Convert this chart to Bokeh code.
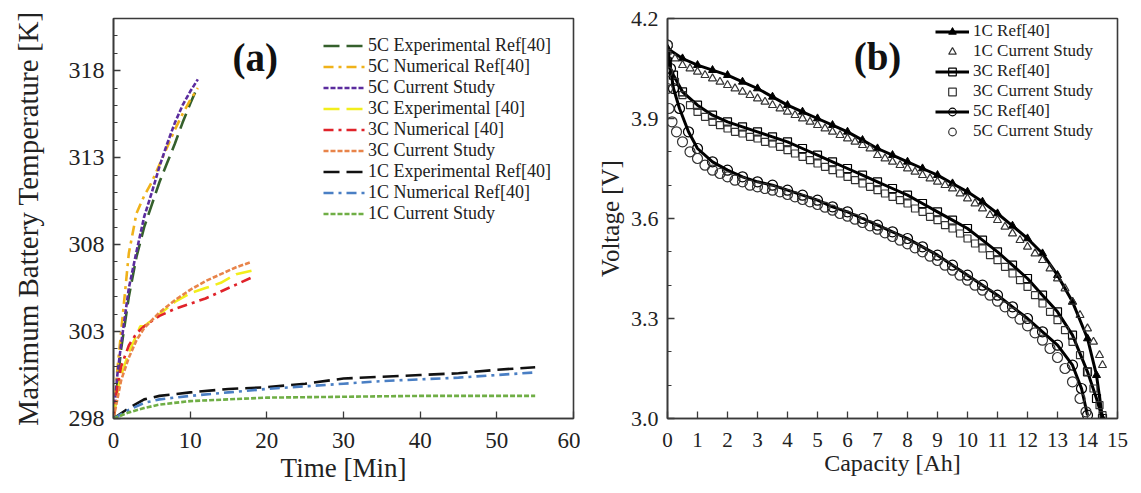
from bokeh.plotting import figure
from bokeh.models import Range1d, FixedTicker, Legend, LegendItem, Label
from bokeh.layouts import row
from bokeh.embed import file_html
from bokeh.resources import INLINE

FONT = "Liberation Serif"

# ---------------- Panel (a): maximum battery temperature ----------------
a_xticks = [0, 10, 20, 30, 40, 50, 60]
a_yticks = [298, 303, 308, 313, 318]
a_ytick_labels = ["298", "303", "308", "313", "318"]
a_yminor = [299, 300, 301, 302, 304, 305, 306, 307, 309, 310, 311, 312,
            314, 315, 316, 317, 319, 320, 321]

t_5c_exp = [0, 0.5, 1, 2, 3, 4, 5, 6, 7, 8, 9, 10, 10.7]
T_5c_exp = [298, 300.0, 302.0, 305.0, 307.3, 309.0, 310.3, 311.6, 312.7, 313.8, 315.0, 316.1, 316.8]

t_5c_num = [0, 0.5, 1, 2, 3, 4, 5, 6, 7, 8, 9, 10, 11]
T_5c_num = [298, 300.8, 303.0, 307.5, 309.8, 310.8, 311.6, 312.6, 313.6, 314.6, 315.5, 316.3, 317.0]

t_5c_cur = [0, 0.5, 1, 2, 3, 4, 5, 6, 7, 8, 9, 10, 11]
T_5c_cur = [298, 300.5, 302.3, 305.5, 307.6, 309.6, 311.0, 312.5, 313.8, 315.0, 316.0, 316.8, 317.5]

t_3c_exp = [0, 0.5, 1, 2, 3, 3.5, 4, 6, 8, 10, 12, 14, 16, 18]
T_3c_exp = [298, 299.5, 300.5, 301.8, 302.8, 303.3, 303.3, 304.0, 304.7, 305.2, 305.5, 305.8, 306.3, 306.5]

t_3c_num = [0, 0.5, 1, 2, 3, 4, 6, 8, 10, 12, 14, 16, 18]
T_3c_num = [298, 299.8, 301.0, 302.2, 302.9, 303.3, 303.9, 304.3, 304.6, 304.9, 305.3, 305.7, 306.1]

t_3c_cur = [0, 1, 2, 3, 4, 6, 8, 10, 12, 14, 16, 18]
T_3c_cur = [298, 300.2, 301.5, 302.5, 303.2, 304.1, 304.8, 305.4, 305.9, 306.3, 306.7, 307.0]

t_1c_exp = [0, 2, 4, 6, 10, 15, 20, 25, 30, 35, 40, 45, 50, 55]
T_1c_exp = [298, 298.6, 299.1, 299.3, 299.5, 299.7, 299.8, 300.0, 300.3, 300.4, 300.5, 300.6, 300.8, 300.95]

t_1c_num = [0, 2, 4, 6, 10, 15, 20, 25, 30, 35, 40, 45, 50, 55]
T_1c_num = [298, 298.5, 298.9, 299.1, 299.3, 299.5, 299.7, 299.85, 300.0, 300.15, 300.25, 300.35, 300.5, 300.65]

t_1c_cur = [0, 2, 4, 6, 10, 15, 20, 30, 40, 50, 55]
T_1c_cur = [298, 298.35, 298.6, 298.8, 299.0, 299.1, 299.2, 299.25, 299.3, 299.3, 299.3]

a_labels = ["5C Experimental Ref[40]", "5C Numerical Ref[40]", "5C Current Study",
            "3C Experimental [40]", "3C Numerical [40]", "3C Current Study",
            "1C Experimental Ref[40]", "1C Numerical Ref[40]", "1C Current Study"]

# ---------------- Panel (b): voltage vs capacity ----------------
b_xticks = [0, 1, 2, 3, 4, 5, 6, 7, 8, 9, 10, 11, 12, 13, 14, 15]
b_yticks = [3.0, 3.3, 3.6, 3.9, 4.2]
b_ytick_labels = ["3.0", "3.3", "3.6", "3.9", "4.2"]
b_yminor = [3.1, 3.2, 3.4, 3.5, 3.7, 3.8, 4.0, 4.1]

c_1c_ref = [0, 0.5, 1, 1.5, 2, 2.5, 3, 3.5, 4, 4.5, 5, 5.5, 6, 6.5, 7, 7.5, 8, 8.5, 9, 9.5,
            10, 10.5, 11, 11.5, 12, 12.5, 13, 13.5, 14, 14.3, 14.5]
v_1c_ref = [4.11, 4.08, 4.06, 4.045, 4.03, 4.01, 3.99, 3.965, 3.94, 3.92, 3.90, 3.88, 3.86, 3.835,
            3.81, 3.79, 3.77, 3.75, 3.73, 3.705, 3.68, 3.65, 3.615, 3.578, 3.54, 3.495, 3.43, 3.35,
            3.24, 3.13, 3.0]

c_1c_cur = [0, 0.25, 0.5, 0.75, 1, 1.25, 1.5, 1.75, 2, 2.25, 2.5, 2.75, 3, 3.25, 3.5, 3.75,
            4, 4.25, 4.5, 4.75, 5, 5.25, 5.5, 5.75, 6, 6.25, 6.5, 6.75, 7, 7.25, 7.5, 7.75,
            8, 8.25, 8.5, 8.75, 9, 9.25, 9.5, 9.75, 10, 10.25, 10.5, 10.75, 11, 11.25, 11.5,
            11.75, 12, 12.25, 12.5, 12.75, 13, 13.25, 13.5, 13.75, 14, 14.2, 14.4, 14.5]
v_1c_cur = [4.10, 4.08, 4.06, 4.05, 4.04, 4.03, 4.02, 4.01, 4.00, 3.99, 3.98, 3.97, 3.96, 3.95,
            3.94, 3.93, 3.92, 3.91, 3.90, 3.89, 3.88, 3.87, 3.86, 3.85, 3.84, 3.83, 3.82, 3.81,
            3.79, 3.78, 3.77, 3.76, 3.75, 3.74, 3.73, 3.72, 3.71, 3.70, 3.69, 3.675, 3.66, 3.645,
            3.63, 3.61, 3.595, 3.575, 3.555, 3.535, 3.515, 3.495, 3.475, 3.45, 3.42, 3.39, 3.35, 3.31,
            3.27, 3.23, 3.19, 3.16]

c_3c_ref = [0, 0.2, 0.5, 1, 1.5, 2, 2.5, 3, 3.5, 4, 4.5, 5, 5.5, 6, 6.5, 7, 7.5, 8, 8.5, 9,
            9.5, 10, 10.5, 11, 11.5, 12, 12.5, 13, 13.5, 14, 14.3, 14.5]
v_3c_ref = [4.07, 4.03, 3.98, 3.94, 3.91, 3.89, 3.875, 3.86, 3.845, 3.83, 3.81, 3.79, 3.77,
            3.75, 3.73, 3.71, 3.69, 3.67, 3.645, 3.62, 3.595, 3.57, 3.535, 3.50, 3.46, 3.42,
            3.37, 3.32, 3.25, 3.14, 3.06, 3.0]

c_3c_cur = [0, 0.25, 0.5, 0.75, 1, 1.25, 1.5, 1.75, 2, 2.25, 2.5, 2.75, 3, 3.25, 3.5, 3.75,
            4, 4.25, 4.5, 4.75, 5, 5.25, 5.5, 5.75, 6, 6.25, 6.5, 6.75, 7, 7.25, 7.5, 7.75,
            8, 8.25, 8.5, 8.75, 9, 9.25, 9.5, 9.75, 10, 10.25, 10.5, 10.75, 11, 11.25, 11.5,
            11.75, 12, 12.25, 12.5, 12.75, 13, 13.25, 13.5, 13.75, 14, 14.2, 14.4, 14.5]
v_3c_cur = [4.06, 4.01, 3.97, 3.94, 3.92, 3.905, 3.89, 3.88, 3.87, 3.86, 3.855, 3.845, 3.84,
            3.83, 3.825, 3.815, 3.805, 3.795, 3.785, 3.775, 3.765, 3.755, 3.745, 3.735, 3.725,
            3.715, 3.705, 3.695, 3.685, 3.675, 3.665, 3.655, 3.645, 3.63, 3.62, 3.605, 3.595,
            3.58, 3.57, 3.555, 3.54, 3.525, 3.51, 3.49, 3.475, 3.455, 3.435, 3.415, 3.395, 3.37,
            3.345, 3.32, 3.295, 3.265, 3.23, 3.19, 3.14, 3.09, 3.04, 3.01]

c_5c_ref = [0, 0.1, 0.2, 0.4, 0.7, 1, 1.5, 2, 2.5, 3, 3.5, 4, 4.5, 5, 5.5, 6, 6.5, 7, 7.5, 8,
            8.5, 9, 9.5, 10, 10.5, 11, 11.5, 12, 12.5, 13, 13.5, 13.8, 14.0]
v_5c_ref = [4.12, 4.05, 3.99, 3.93, 3.86, 3.81, 3.77, 3.745, 3.725, 3.71, 3.70, 3.685, 3.67,
            3.655, 3.635, 3.62, 3.60, 3.58, 3.56, 3.54, 3.515, 3.49, 3.46, 3.43, 3.40, 3.37,
            3.335, 3.30, 3.26, 3.22, 3.16, 3.09, 3.01]

c_5c_cur = [0, 0, 0, 0.05, 0.15, 0.3, 0.5, 0.75, 1, 1.25, 1.5, 1.75, 2, 2.25, 2.5, 2.75, 3,
            3.25, 3.5, 3.75, 4, 4.25, 4.5, 4.75, 5, 5.25, 5.5, 5.75, 6, 6.25, 6.5, 6.75, 7,
            7.25, 7.5, 7.75, 8, 8.25, 8.5, 8.75, 9, 9.25, 9.5, 9.75, 10, 10.25, 10.5, 10.75, 11,
            11.25, 11.5, 11.75, 12, 12.25, 12.5, 12.75, 13, 13.25, 13.5, 13.75, 13.95]
v_5c_cur = [4.12, 4.04, 3.99, 3.93, 3.89, 3.86, 3.83, 3.80, 3.78, 3.76, 3.745, 3.735, 3.725,
            3.715, 3.71, 3.70, 3.695, 3.69, 3.685, 3.68, 3.672, 3.665, 3.657, 3.65, 3.642,
            3.634, 3.625, 3.615, 3.607, 3.598, 3.588, 3.578, 3.568, 3.557, 3.546, 3.535, 3.524,
            3.512, 3.50, 3.487, 3.474, 3.46, 3.445, 3.43, 3.415, 3.40, 3.385, 3.37, 3.352,
            3.335, 3.317, 3.298, 3.278, 3.257, 3.235, 3.21, 3.183, 3.15, 3.11, 3.06, 3.02]

b_labels = ["1C Ref[40]", "1C Current Study", "3C Ref[40]", "3C Current Study",
            "5C Ref[40]", "5C Current Study"]

AX_COLOR = "#3a3a3a"
TXT_COLOR = "#222222"


def style_axes(p, xtick_size, ytick_size, xlabel_size, ylabel_size):
    p.xgrid.visible = False
    p.ygrid.visible = False
    p.outline_line_color = AX_COLOR
    p.outline_line_width = 1.6
    p.background_fill_color = "white"
    p.border_fill_color = "white"
    for ax in (p.xaxis[0], p.yaxis[0]):
        ax.axis_line_color = AX_COLOR
        ax.axis_line_width = 1.6
        ax.major_tick_line_color = AX_COLOR
        ax.minor_tick_line_color = AX_COLOR
        ax.major_tick_line_width = 1.3
        ax.minor_tick_line_width = 1
        ax.major_tick_in = 7
        ax.major_tick_out = 0
        ax.minor_tick_in = 4
        ax.minor_tick_out = 0
        ax.major_label_text_font = FONT
        ax.major_label_text_color = TXT_COLOR
        ax.axis_label_text_font = FONT
        ax.axis_label_text_color = TXT_COLOR
        ax.axis_label_text_font_style = "normal"
    p.xaxis[0].major_label_text_font_size = xtick_size
    p.yaxis[0].major_label_text_font_size = ytick_size
    p.xaxis[0].axis_label_text_font_size = xlabel_size
    p.yaxis[0].axis_label_text_font_size = ylabel_size


# ---- figure (a)
pa = figure(width=580, height=492, output_backend="svg", toolbar_location=None,
            x_range=Range1d(0, 60), y_range=Range1d(298, 321),
            min_border_left=113, min_border_right=7, min_border_top=17, min_border_bottom=74,
            x_axis_label="Time [Min]", y_axis_label="Maximum Battery Temperature [K]")
style_axes(pa, "23px", "24px", "27px", "29px")
pa.xaxis[0].ticker = FixedTicker(ticks=a_xticks, minor_ticks=[])
pa.yaxis[0].ticker = FixedTicker(ticks=a_yticks, minor_ticks=a_yminor)
pa.yaxis[0].major_label_overrides = {v: s for v, s in zip(a_yticks, a_ytick_labels)}
pa.yaxis[0].major_label_standoff = 9
pa.yaxis[0].axis_label_standoff = 22
pa.xaxis[0].major_label_standoff = 14
pa.xaxis[0].axis_label_standoff = 2

LONG = "16 7"
DASHDOT = "10 5 3 5"
SHORT = "5 2"
LW = 2.6
series_a = [
    (t_5c_exp, T_5c_exp, "#35602c", LONG),
    (t_5c_num, T_5c_num, "#f0b21a", DASHDOT),
    (t_5c_cur, T_5c_cur, "#5b2c9e", SHORT),
    (t_3c_exp, T_3c_exp, "#f2ee1c", LONG),
    (t_3c_num, T_3c_num, "#e0232a", DASHDOT),
    (t_3c_cur, T_3c_cur, "#e8844a", SHORT),
    (t_1c_exp, T_1c_exp, "#111111", LONG),
    (t_1c_num, T_1c_num, "#4a7fc4", DASHDOT),
    (t_1c_cur, T_1c_cur, "#6fae45", SHORT),
]
items_a = []
for (xs, ys, col, dash), lab in zip(series_a, a_labels):
    r = pa.line(xs, ys, line_color=col, line_width=LW, line_dash=dash)
    items_a.append(LegendItem(label=lab, renderers=[r]))

leg_a = Legend(items=items_a, location=(210, 194), margin=0, padding=0, spacing=0,
               glyph_width=42, glyph_height=21, label_height=21, label_standoff=3,
               label_text_font=FONT, label_text_font_size="18px", label_text_color=TXT_COLOR,
               border_line_color=None, background_fill_alpha=0)
pa.add_layout(leg_a)
pa.add_layout(Label(x=18.5, y=318.75, text="(a)", text_font=FONT, text_font_size="39px",
                    text_font_style="bold", text_color="#111111", text_align="center",
                    text_baseline="middle"))

# ---- figure (b)
pb = figure(width=560, height=492, output_backend="svg", toolbar_location=None,
            x_range=Range1d(0, 15), y_range=Range1d(3.0, 4.2),
            min_border_left=87, min_border_right=23, min_border_top=18, min_border_bottom=69,
            x_axis_label="Capacity [Ah]", y_axis_label="Voltage [V]")
style_axes(pb, "21px", "22px", "24px", "25px")
pb.xaxis[0].ticker = FixedTicker(ticks=b_xticks, minor_ticks=[])
pb.yaxis[0].ticker = FixedTicker(ticks=b_yticks, minor_ticks=b_yminor)
pb.yaxis[0].major_label_overrides = {v: s for v, s in zip(b_yticks, b_ytick_labels)}
pb.yaxis[0].major_label_standoff = 9
pb.yaxis[0].axis_label_standoff = 4
pb.xaxis[0].major_label_standoff = 14
pb.xaxis[0].axis_label_standoff = 0

CUR = "#333333"
REF_LW = 3.0
r1l = pb.line(c_1c_ref, v_1c_ref, line_color="black", line_width=REF_LW)
r1m = pb.scatter(c_1c_ref, v_1c_ref, marker="triangle", size=8, fill_color="black",
                 line_color="black")
r1c = pb.scatter(c_1c_cur, v_1c_cur, marker="triangle", size=8, fill_color=None,
                 line_color=CUR, line_width=1.2)
r3l = pb.line(c_3c_ref, v_3c_ref, line_color="black", line_width=REF_LW)
r3m = pb.scatter(c_3c_ref, v_3c_ref, marker="square", size=8, fill_color=None,
                 line_color="black", line_width=1.2)
r3c = pb.scatter(c_3c_cur, v_3c_cur, marker="square", size=7, fill_color=None,
                 line_color=CUR, line_width=1.2)
r5l = pb.line(c_5c_ref, v_5c_ref, line_color="black", line_width=REF_LW)
r5m = pb.scatter(c_5c_ref, v_5c_ref, marker="circle", size=10, fill_color=None,
                 line_color="black", line_width=1.2)
r5c = pb.scatter(c_5c_cur, v_5c_cur, marker="circle", size=10, fill_color=None,
                 line_color=CUR, line_width=1.2)

items_b = [
    LegendItem(label=b_labels[0], renderers=[r1l, r1m]),
    LegendItem(label=b_labels[1], renderers=[r1c]),
    LegendItem(label=b_labels[2], renderers=[r3l, r3m]),
    LegendItem(label=b_labels[3], renderers=[r3c]),
    LegendItem(label=b_labels[4], renderers=[r5l, r5m]),
    LegendItem(label=b_labels[5], renderers=[r5c]),
]
leg_b = Legend(items=items_b, location=(268, 277), margin=0, padding=0, spacing=-1,
               glyph_width=34, glyph_height=19, label_height=19, label_standoff=4,
               label_text_font=FONT, label_text_font_size="17px", label_text_color=TXT_COLOR,
               border_line_color=None, background_fill_alpha=0)
pb.add_layout(leg_b)
pb.add_layout(Label(x=7.0, y=4.085, text="(b)", text_font=FONT, text_font_size="39px",
                    text_font_style="bold", text_color="#111111", text_align="center",
                    text_baseline="middle"))

layout = row(pa, pb)
open("out.html", "w").write(file_html(layout, INLINE))
